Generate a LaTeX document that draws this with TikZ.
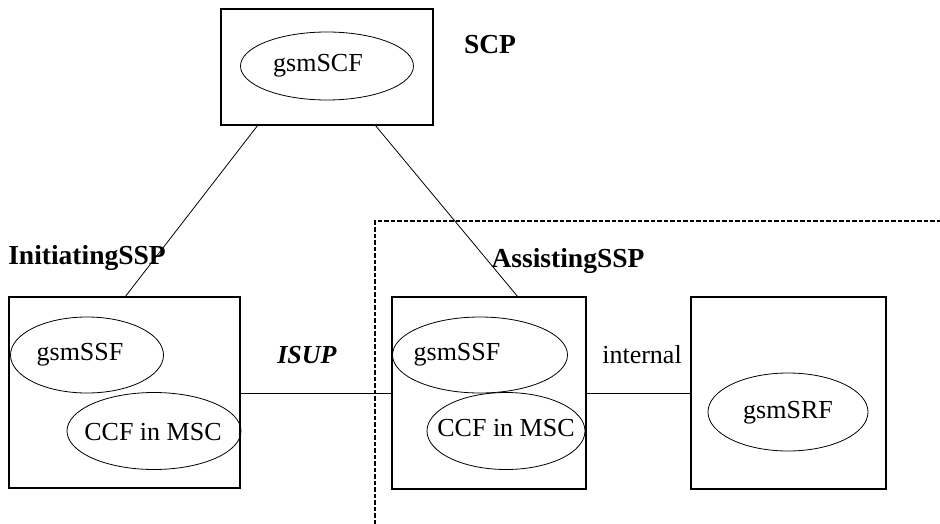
\documentclass[tikz,border=0pt]{standalone}
\usepackage{fontspec}
\setmainfont{Liberation Serif}
\usetikzlibrary{shapes.geometric}
\begin{document}
\begin{tikzpicture}[x=1pt,y=-1pt,
  box/.style={draw,line width=1.5pt,inner sep=0pt},
  ell/.style={draw,ellipse,line width=0.8pt,inner sep=0pt},
  txt/.style={font=\fontsize{26}{29}\selectfont,inner sep=0pt},
  lbl/.style={font=\fontsize{27.5}{30}\selectfont\bfseries,inner sep=0pt},
  conn/.style={line width=0.8pt}]
\useasboundingbox (0,0) rectangle (940,524);
% boxes
\node[box,minimum width=212pt,minimum height=116pt] (scp) at (327,67) {};
\node[box,minimum width=231pt,minimum height=191pt] (issp) at (124.5,392.5) {};
\node[box,minimum width=194pt,minimum height=192pt] (assp) at (489,393) {};
\node[box,minimum width=195pt,minimum height=192pt] (srf) at (788.5,393) {};
% ellipses
\node[ell,minimum width=173pt,minimum height=68pt] (scf) at (327,66) {};
\node[txt] (scft) at (318,66) {gsmSCF};
\node[ell,minimum width=153pt,minimum height=76pt] (issf) at (87,355) {};
\node[txt] (issft) at (80,355) {gsmSSF};
\node[ell,minimum width=174pt,minimum height=77pt] (iccf) at (154,431) {};
\node[txt] (iccft) at (153,432) {CCF in MSC};
\node[ell,minimum width=175pt,minimum height=76pt] (assf) at (480,355) {};
\node[txt] (assft) at (457,355) {gsmSSF};
\node[ell,minimum width=158pt,minimum height=77pt] (accf) at (506,431) {};
\node[txt] (accft) at (506,428) {CCF in MSC};
\node[ell,minimum width=160pt,minimum height=78pt] (gsrf) at (788,412) {};
\node[txt] (gsrft) at (788,413) {gsmSRF};
% labels
\node[lbl] (scpl) at (490,45) {SCP};
\node[lbl] (isspl) at (87,258) {InitiatingSSP};
\node[lbl] (asspl) at (568,261) {AssistingSSP};
\node[txt,font=\fontsize{26}{29}\selectfont\bfseries\itshape] (isup) at (307,355) {ISUP};
\node[txt] (intl) at (642,355) {internal};
% dashed region
\coordinate (d1) at (375,524);
\coordinate (d2) at (375,221);
\coordinate (d3) at (940,221);
\draw[line width=1.5pt,dash pattern=on 4.5pt off 2pt] (d1) -- (d2) -- (d3);
% connectors
\coordinate (s1) at (258,125);
\coordinate (s2) at (125,297);
\coordinate (s3) at (375,125);
\coordinate (s4) at (518,297);
\draw[conn] (s1) -- (s2);
\draw[conn] (s3) -- (s4);
\draw[conn] (issp.east |- 0,393) -- (assp.west |- 0,393);
\draw[conn] (assp.east |- 0,393) -- (srf.west |- 0,393);
\end{tikzpicture}
\end{document}
